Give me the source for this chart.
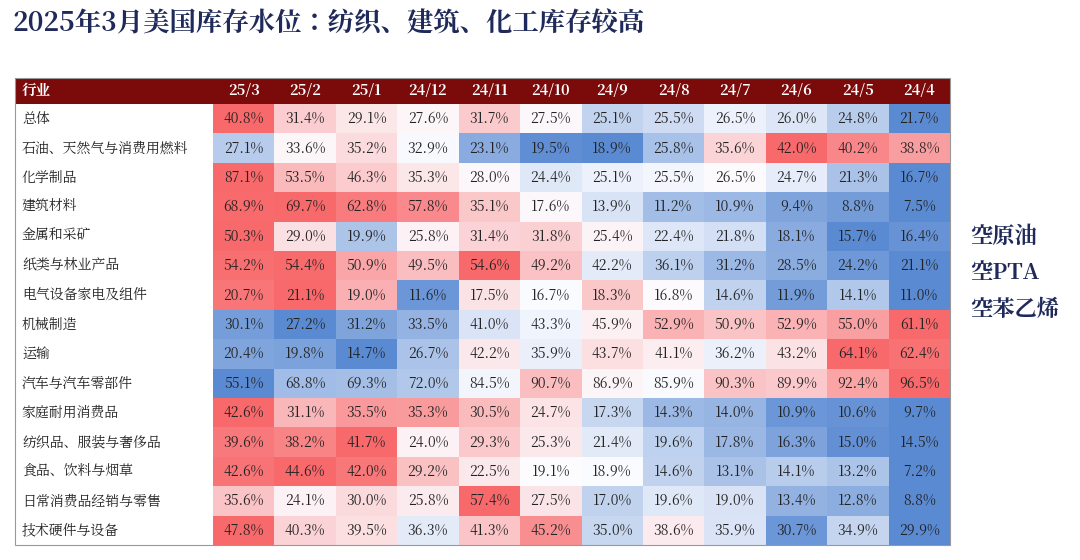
import numpy as np, pandas as pd, seaborn as sns, matplotlib
matplotlib.use("Agg")
import matplotlib.pyplot as plt
from matplotlib import font_manager as fm
from matplotlib.colors import LinearSegmentedColormap
from matplotlib.patches import Rectangle
from matplotlib.transforms import blended_transform_factory

cjk = None
for p in fm.findSystemFonts():
    if "CJK" in p and ("SC" in p or "otf" in p or "ttc" in p):
        try:
            fm.fontManager.addfont(p)
            nm = fm.FontProperties(fname=p).get_name()
            if cjk is None or "SC" in nm:
                cjk = nm
        except Exception:
            pass
plt.rcParams["font.family"] = [cjk or "Noto Sans CJK SC", "Noto Sans CJK JP", "DejaVu Sans"]

cols = ["25/3","25/2","25/1","24/12","24/11","24/10","24/9","24/8","24/7","24/6","24/5","24/4"]
industries = ["总体","石油、天然气与消费用燃料","化学制品","建筑材料","金属和采矿","纸类与林业产品",
              "电气设备家电及组件","机械制造","运输","汽车与汽车零部件","家庭耐用消费品",
              "纺织品、服装与奢侈品","食品、饮料与烟草","日常消费品经销与零售","技术硬件与设备"]
values = [
 [40.8,31.4,29.1,27.6,31.7,27.5,25.1,25.5,26.5,26.0,24.8,21.7],
 [27.1,33.6,35.2,32.9,23.1,19.5,18.9,25.8,35.6,42.0,40.2,38.8],
 [87.1,53.5,46.3,35.3,28.0,24.4,25.1,25.5,26.5,24.7,21.3,16.7],
 [68.9,69.7,62.8,57.8,35.1,17.6,13.9,11.2,10.9,9.4,8.8,7.5],
 [50.3,29.0,19.9,25.8,31.4,31.8,25.4,22.4,21.8,18.1,15.7,16.4],
 [54.2,54.4,50.9,49.5,54.6,49.2,42.2,36.1,31.2,28.5,24.2,21.1],
 [20.7,21.1,19.0,11.6,17.5,16.7,18.3,16.8,14.6,11.9,14.1,11.0],
 [30.1,27.2,31.2,33.5,41.0,43.3,45.9,52.9,50.9,52.9,55.0,61.1],
 [20.4,19.8,14.7,26.7,42.2,35.9,43.7,41.1,36.2,43.2,64.1,62.4],
 [55.1,68.8,69.3,72.0,84.5,90.7,86.9,85.9,90.3,89.9,92.4,96.5],
 [42.6,31.1,35.5,35.3,30.5,24.7,17.3,14.3,14.0,10.9,10.6,9.7],
 [39.6,38.2,41.7,24.0,29.3,25.3,21.4,19.6,17.8,16.3,15.0,14.5],
 [42.6,44.6,42.0,29.2,22.5,19.1,18.9,14.6,13.1,14.1,13.2,7.2],
 [35.6,24.1,30.0,25.8,57.4,27.5,17.0,19.6,19.0,13.4,12.8,8.8],
 [47.8,40.3,39.5,36.3,41.3,45.2,35.0,38.6,35.9,30.7,34.9,29.9],
]
notes = ["空原油","空PTA","空苯乙烯"]

df = pd.DataFrame(values, index=industries, columns=cols)
norm = []
for r in df.values:
    lo, md, hi = r.min(), np.percentile(r, 50), r.max()
    norm.append([0.5*(v-lo)/(md-lo) if v <= md else 0.5+0.5*(v-md)/(hi-md) for v in r])
ndf = pd.DataFrame(norm, index=industries, columns=cols)
cmap = LinearSegmentedColormap.from_list("x", ["#5A8AD2", "#FCFCFF", "#F8696B"])

W, H = 1080, 560
fig = plt.figure(figsize=(W/100, H/100), dpi=100)
fig.patch.set_facecolor("white")
L, R, T, B = 213, 950, 104, 545
ax = fig.add_axes([L/W, 1-B/H, (R-L)/W, (B-T)/H])
annot = df.map(lambda v: f"{v:.1f}%")
sns.heatmap(ndf, ax=ax, cmap=cmap, vmin=0, vmax=1, cbar=False, annot=annot, fmt="",
            annot_kws={"fontsize": 10, "color": "#222222"}, linewidths=0)
ax.set_xticks([]); ax.set_yticks([]); ax.set_xlabel(""); ax.set_ylabel("")
tr = blended_transform_factory(fig.transFigure, ax.transData)
for i, name in enumerate(industries):
    ax.text(22/W, i+0.5, name, transform=tr, ha="left", va="center", fontsize=10, color="#222222")

fig.patches.append(Rectangle((15/W, 1-T/H), (R-15)/W, 26/H, transform=fig.transFigure,
                             facecolor="#7B0A0A", edgecolor="none"))
fig.text(22/W, 1-(T-13)/H, "行业", color="white", fontsize=10.5, fontweight="bold", va="center")
cw = (R-L)/len(cols)
for j, c in enumerate(cols):
    fig.text((L+cw*(j+0.5))/W, 1-(T-13)/H, c, color="white", fontsize=10.5,
             fontweight="bold", ha="center", va="center")
fig.patches.append(Rectangle((15/W, 1-B/H), (R-15)/W, (B-78)/H, transform=fig.transFigure,
                             facecolor="none", edgecolor="#999999", lw=0.8))

fig.text(12/W, 1-24/H, "2025年3月美国库存水位：纺织、建筑、化工库存较高", fontsize=19,
         fontweight="bold", color="#1F2A5A", va="center")
for k, n in enumerate(notes):
    fig.text(970/W, 1-(237+36.5*k)/H, n, fontsize=16, fontweight="bold", color="#1F2A5A", va="center")
fig.savefig("out.png", dpi=100)
